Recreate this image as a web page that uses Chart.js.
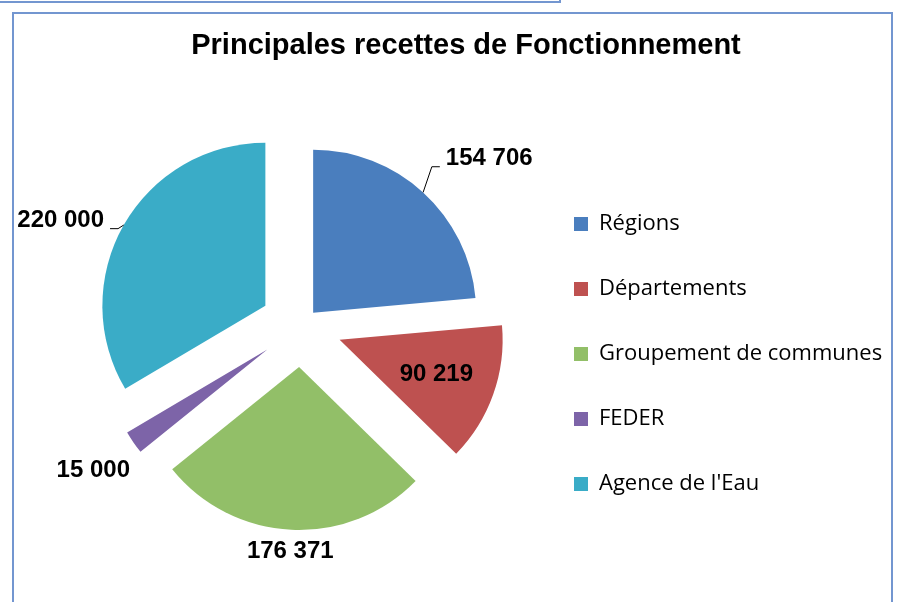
<!DOCTYPE html>
<html lang="fr">
<head>
<meta charset="utf-8">
<title>Principales recettes de Fonctionnement</title>
<script src="https://cdn.jsdelivr.net/npm/chart.js@4.4.1/dist/chart.umd.min.js"></script>
<style>
  html, body { margin: 0; padding: 0; background: #fff; overflow: hidden; }
  #cadre_haut { position: absolute; left: -10px; top: -20px; width: 567px; height: 19px; border: 2px solid #7396d0; }
  #cadre { position: absolute; left: 12px; top: 12px; width: 877px; height: 700px; border: 2px solid #7396d0; }
  #graphique { position: absolute; left: 0; top: 0; }
</style>
</head>
<body>
<div id="cadre_haut"></div>
<div id="cadre"></div>
<canvas id="graphique" width="899" height="602"></canvas>
<script>
// Données du graphique
const categories = ['Régions', 'Départements', 'Groupement de communes', 'FEDER', "Agence de l'Eau"];
const montants = [154706, 90219, 176371, 15000, 220000];
const couleurs = ['#4a7ebe', '#be5150', '#92bf68', '#7d64a8', '#3aacc7'];

// Format "154 706"
function formatMontant(v) {
    return String(v).replace(/\B(?=(\d{3})+(?!\d))/g, ' ');
}

// Éclatement des parts (décalage le long de la bissectrice)
const pluginEclate = {
    id: 'eclate',
    afterDatasetsUpdate(chart, args, opts) {
        const area = chart.chartArea;
        const cx = (area.left + area.right) / 2 + (opts.decalageX || 0);
        const cy = (area.top + area.bottom) / 2;
        chart.getDatasetMeta(0).data.forEach((arc, i) => {
            const milieu = (arc.startAngle + arc.endAngle) / 2;
            const d = opts.distances[i] || 0;
            arc.x = cx + Math.cos(milieu) * d;
            arc.y = cy + Math.sin(milieu) * d;
        });
    }
};

// Étiquettes de valeurs (avec trait de rappel pour certaines)
const pluginEtiquettes = {
    id: 'etiquettes',
    afterDatasetsDraw(chart, args, opts) {
        const ctx = chart.ctx;
        const valeurs = chart.data.datasets[0].data;
        ctx.save();
        ctx.font = opts.police;
        ctx.fillStyle = '#000';
        ctx.strokeStyle = '#000';
        ctx.lineWidth = 1;
        ctx.textAlign = 'center';
        ctx.textBaseline = 'middle';
        chart.getDatasetMeta(0).data.forEach((arc, i) => {
            const r = arc.outerRadius;
            const milieu = (arc.startAngle + arc.endAngle) / 2;
            const a = milieu + (opts.rotations[i] || 0) * Math.PI / 180;
            const lx = arc.x + Math.cos(a) * r * opts.distances[i];
            const ly = arc.y + Math.sin(a) * r * opts.distances[i];
            const texte = formatMontant(valeurs[i]);
            const w = ctx.measureText(texte).width;
            if (opts.traits[i]) {
                const cote = Math.cos(milieu) >= 0 ? 1 : -1;
                const finX = lx - cote * (w / 2 + 6);
                const coudeX = finX - cote * 8;
                const yTrait = ly + 8;
                ctx.beginPath();
                ctx.moveTo(arc.x + Math.cos(milieu) * r, arc.y + Math.sin(milieu) * r);
                ctx.lineTo(coudeX, yTrait);
                ctx.lineTo(finX, yTrait);
                ctx.stroke();
            }
            ctx.fillText(texte, lx, ly);
        });
        ctx.restore();
    }
};

const ctx = document.getElementById('graphique').getContext('2d');
new Chart(ctx, {
    type: 'pie',
    data: {
        labels: categories,
        datasets: [{
            data: montants,
            backgroundColor: couleurs,
            borderWidth: 0,
            radius: 163
        }]
    },
    options: {
        responsive: false,
        animation: false,
        events: [],
        layout: {
            padding: { left: 43, right: 10, top: 0, bottom: 64 }
        },
        plugins: {
            title: {
                display: true,
                text: 'Principales recettes de Fonctionnement',
                color: '#000',
                font: { family: '"Liberation Sans", Arial, sans-serif', size: 29, weight: 'bold' },
                padding: { top: 28.6, bottom: 50.6 }
            },
            legend: {
                position: 'right',
                align: 'end',
                maxWidth: 358,
                labels: {
                    boxWidth: 14,
                    boxHeight: 14,
                    padding: 43,
                    color: '#000',
                    font: { family: '"Open Sans", sans-serif', size: 22 }
                }
            },
            tooltip: { enabled: false },
            eclate: { distances: [18, 41, 41, 41, 41], decalageX: 14 },
            etiquettes: {
                police: 'bold 24px "Liberation Sans", Arial, sans-serif',
                distances: [1.435, 0.63, 1.135, 1.3, 1.36],
                rotations: [6.4, 0, 0, 0, -7.1],
                traits: [true, false, false, false, true]
            }
        }
    },
    plugins: [pluginEclate, pluginEtiquettes]
});
</script>
</body>
</html>
